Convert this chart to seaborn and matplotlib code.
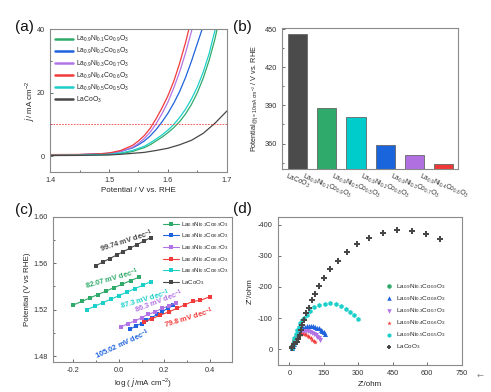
import numpy as np
import matplotlib
matplotlib.use('Agg')
import matplotlib.pyplot as plt
from matplotlib.ticker import AutoMinorLocator, MultipleLocator, FormatStrFormatter
import seaborn as sns

sns.set_style('ticks')
plt.rcParams['font.family'] = ['Liberation Sans', 'DejaVu Sans']
plt.rcParams['mathtext.default'] = 'regular'
plt.rcParams['axes.unicode_minus'] = False

# sample names and colours
lab_ni1 = r'La$_{0.9}$Ni$_{0.1}$Co$_{0.9}$O$_3$'
lab_ni2 = r'La$_{0.9}$Ni$_{0.2}$Co$_{0.8}$O$_3$'
lab_ni3 = r'La$_{0.9}$Ni$_{0.3}$Co$_{0.7}$O$_3$'
lab_ni4 = r'La$_{0.9}$Ni$_{0.4}$Co$_{0.6}$O$_3$'
lab_ni5 = r'La$_{0.9}$Ni$_{0.5}$Co$_{0.5}$O$_3$'
lab_lco = r'LaCoO$_3$'
c_ni1 = '#2faa6a'
c_ni2 = '#1f63dd'
c_ni3 = '#b274e4'
c_ni4 = '#f23a3a'
c_ni5 = '#1ccfc9'
c_lco = '#474747'

# (a) LSV curves
v_ni1 = [1.40, 1.45, 1.50, 1.52, 1.54, 1.56, 1.57, 1.58, 1.59, 1.60, 1.61, 1.62, 1.63, 1.64, 1.65, 1.66, 1.67, 1.68, 1.684]
j_ni1 = [0.3, 0.35, 0.5, 0.8, 1.5, 2.7, 3.6, 4.8, 6.0, 7.4, 9.0, 10.9, 13.3, 16.3, 20.0, 24.6, 30.2, 37.0, 40.5]
v_ni2 = [1.40, 1.45, 1.50, 1.52, 1.54, 1.55, 1.56, 1.57, 1.58, 1.59, 1.60, 1.61, 1.62, 1.63, 1.64, 1.65, 1.66]
j_ni2 = [0.4, 0.5, 0.9, 1.5, 2.6, 3.6, 4.8, 6.4, 8.4, 10.8, 13.5, 16.7, 20.4, 24.8, 29.9, 35.5, 41.0]
v_ni3 = [1.40, 1.45, 1.48, 1.50, 1.52, 1.54, 1.55, 1.56, 1.57, 1.58, 1.59, 1.60, 1.61, 1.62, 1.63, 1.64, 1.642]
j_ni3 = [0.4, 0.5, 0.6, 0.9, 1.5, 2.8, 4.0, 5.6, 7.6, 10.2, 13.4, 17.0, 21.5, 26.6, 32.5, 39.3, 41.0]
v_ni4 = [1.40, 1.45, 1.48, 1.50, 1.52, 1.54, 1.55, 1.56, 1.57, 1.58, 1.59, 1.60, 1.61, 1.62, 1.63, 1.637]
j_ni4 = [0.5, 0.55, 0.7, 1.0, 1.8, 3.4, 4.8, 6.5, 8.8, 11.8, 15.2, 19.0, 23.6, 29.3, 35.8, 41.0]
v_ni5 = [1.40, 1.45, 1.50, 1.52, 1.54, 1.56, 1.57, 1.58, 1.59, 1.60, 1.61, 1.62, 1.63, 1.64, 1.65, 1.66, 1.67, 1.677, 1.682]
j_ni5 = [0.3, 0.35, 0.6, 1.0, 1.8, 3.1, 4.2, 5.4, 6.7, 8.2, 10.0, 12.2, 14.8, 18.0, 21.8, 26.5, 32.3, 37.5, 41.0]
v_lco = [1.40, 1.45, 1.50, 1.52, 1.54, 1.56, 1.58, 1.60, 1.62, 1.64, 1.66, 1.68, 1.70]
j_lco = [0.2, 0.25, 0.4, 0.6, 0.9, 1.2, 1.8, 2.5, 3.6, 5.0, 7.2, 10.4, 14.2]

# (b) potential at 10 mA cm-2
bar_names = [lab_lco, lab_ni1, lab_ni5, lab_ni2, lab_ni3, lab_ni4]
bar_values = [446, 388, 381, 359, 351, 344]
bar_colors = ['#4b4b4b', '#2faa6a', '#00cccc', '#1a64dc', '#b070e0', '#f03838']

# (c) Tafel plots
tx_ni1 = [-0.20, -0.164, -0.128, -0.092, -0.056, -0.020, 0.016, 0.052, 0.090]
ty_ni1 = [1.524, 1.527, 1.530, 1.533, 1.536, 1.539, 1.542, 1.545, 1.548]
tx_ni2 = [0.05, 0.075, 0.10, 0.12, 0.145, 0.17, 0.19, 0.215, 0.24]
ty_ni2 = [1.503, 1.506, 1.508, 1.511, 1.513, 1.516, 1.518, 1.521, 1.524]
tx_ni3 = [0.01, 0.04, 0.07, 0.10, 0.13, 0.16, 0.19, 0.22, 0.25]
ty_ni3 = [1.505, 1.508, 1.510, 1.513, 1.516, 1.518, 1.521, 1.523, 1.526]
tx_ni4 = [0.11, 0.145, 0.18, 0.22, 0.255, 0.29, 0.325, 0.36, 0.40]
ty_ni4 = [1.509, 1.512, 1.515, 1.518, 1.521, 1.524, 1.527, 1.528, 1.531]
tx_ni5 = [-0.14, -0.105, -0.07, -0.035, 0.0, 0.035, 0.07, 0.105, 0.14]
ty_ni5 = [1.520, 1.523, 1.526, 1.529, 1.532, 1.535, 1.538, 1.541, 1.544]
tx_lco = [-0.10, -0.07, -0.04, -0.01, 0.02, 0.05, 0.08, 0.11, 0.14]
ty_lco = [1.558, 1.561, 1.564, 1.567, 1.570, 1.573, 1.576, 1.579, 1.582]
tafel_text = ['82.07', '105.02', '86.3', '79.8', '87.3', '99.74']

# (d) Nyquist plots (Z', -Z'')
zr_ni1 = [10, 13, 17, 21, 25, 30, 35, 40, 45]
zi_ni1 = [-3, -10, -18, -26, -33, -40, -46, -50, -53]
zr_ni2 = [12, 15, 18, 22, 27, 32, 38, 45, 52, 60, 68, 77, 86, 95, 104, 113, 121, 129, 137, 144, 151, 157]
zi_ni2 = [-3, -10, -18, -27, -36, -45, -53, -60, -66, -70, -73, -75, -76, -76, -75, -73, -70, -67, -63, -59, -55, -50]
zr_ni3 = [12, 15, 19, 24, 30, 37, 45, 53, 62, 71, 80, 89, 98, 106, 114, 121, 128, 135]
zi_ni3 = [-3, -11, -20, -29, -38, -46, -52, -56, -58, -59, -58, -56, -53, -49, -45, -40, -35, -30]
zr_ni4 = [10, 13, 17, 21, 26, 32, 38, 45, 52, 59, 66, 73, 80, 87, 94, 100, 106, 112]
zi_ni4 = [-3, -11, -20, -29, -37, -43, -47, -49, -50, -50, -48, -46, -43, -39, -35, -31, -27, -22]
zr_ni5 = [10, 14, 19, 22, 28, 33, 40, 46, 55, 65, 76, 88, 106, 130, 153, 178, 203, 226, 248, 266, 282, 298]
zi_ni5 = [-3, -13, -24, -37, -50, -62, -73, -83, -93, -102, -111, -124, -136, -142, -145, -147, -144, -139, -130, -119, -109, -97]
zr_lco = [10, 13, 22, 31, 38, 45, 51, 57, 62, 74, 87, 97, 112, 130, 149, 177, 210, 249, 295, 348, 407, 469, 533, 595, 656]
zi_lco = [-3, -7, -16, -24, -34, -47, -61, -77, -94, -115, -134, -158, -178, -203, -229, -256, -284, -312, -337, -357, -373, -382, -381, -371, -355]

spine_col = '#8a8a8a'
tick_fs = 5.3
lab_fs = 5.8


def style_axes(ax):
    for s in ax.spines.values():
        s.set_color(spine_col)
        s.set_linewidth(0.8)
    ax.tick_params(which='both', direction='in', colors='#555555', labelsize=tick_fs,
                   labelcolor='#333333', width=0.6)
    ax.tick_params(which='major', length=2.5)
    ax.tick_params(which='minor', length=1.5)


fig = plt.figure(figsize=(4.91, 3.92), dpi=100)

# ---- (a)
ax_a = fig.add_axes([0.102, 0.561, 0.360, 0.365])
series_a = [(v_ni1, j_ni1, c_ni1, lab_ni1), (v_ni2, j_ni2, c_ni2, lab_ni2),
            (v_ni3, j_ni3, c_ni3, lab_ni3), (v_ni4, j_ni4, c_ni4, lab_ni4),
            (v_ni5, j_ni5, c_ni5, lab_ni5), (v_lco, j_lco, c_lco, lab_lco)]
for v, j, c, lab in series_a:
    sns.lineplot(x=v, y=j, ax=ax_a, color=c, lw=0.9, label=lab, sort=False, estimator=None)
ax_a.axhline(10, color='#f04040', ls=(0, (2, 1.5)), lw=0.6)
ax_a.set_xlim(1.4, 1.7)
ax_a.set_ylim(-5, 40)
ax_a.xaxis.set_major_locator(MultipleLocator(0.1))
ax_a.yaxis.set_major_locator(MultipleLocator(20))
ax_a.xaxis.set_minor_locator(AutoMinorLocator(2))
ax_a.yaxis.set_minor_locator(AutoMinorLocator(2))
ax_a.set_xlabel('Potential / V vs. RHE', fontsize=lab_fs, labelpad=2)
ax_a.set_ylabel(r'$\mathit{j}$/ mA cm$^{-2}$', fontsize=lab_fs, labelpad=1)
leg = ax_a.legend(loc='upper left', fontsize=4.9, frameon=False, handlelength=2.6,
                  labelspacing=0.28, borderaxespad=0.35, handletextpad=0.4)
for ln in leg.get_lines():
    ln.set_linewidth(1.8)
style_axes(ax_a)

# ---- (b)
ax_b = fig.add_axes([0.574, 0.569, 0.359, 0.360])
sns.barplot(x=bar_names, y=bar_values, hue=bar_names, palette=bar_colors, legend=False,
            ax=ax_b, width=0.66, edgecolor='#666666', linewidth=0.6, saturation=1)
ax_b.set_ylim(340, 451)
ax_b.set_xlim(-0.53, 5.49)
ax_b.yaxis.set_major_locator(MultipleLocator(30))
ax_b.yaxis.set_minor_locator(AutoMinorLocator(2))
ax_b.set_ylabel(r'Potential$_{@j=10mA\ cm^{-2}}$ / V vs. RHE', fontsize=5.2, labelpad=3)
ax_b.set_xlabel('')
style_axes(ax_b)
ax_b.tick_params(axis='x', length=0, pad=2)
plt.setp(ax_b.get_xticklabels(), rotation=-22, ha='center', fontsize=4.8)

# ---- (c)
ax_c = fig.add_axes([0.108, 0.077, 0.365, 0.370])
series_c = [(tx_ni1, ty_ni1, c_ni1, lab_ni1), (tx_ni2, ty_ni2, c_ni2, lab_ni2),
            (tx_ni3, ty_ni3, c_ni3, lab_ni3), (tx_ni4, ty_ni4, c_ni4, lab_ni4),
            (tx_ni5, ty_ni5, c_ni5, lab_ni5), (tx_lco, ty_lco, c_lco, lab_lco)]
for x, y, c, lab in series_c:
    sns.lineplot(x=x, y=y, ax=ax_c, color=c, lw=0.8, marker='s', markersize=2.6,
                 markeredgewidth=0, label=lab, sort=False, estimator=None)
# slope labels: (x, y, rotation) in data coords
text_pos = [(-0.030, 1.5465, 16), (0.015, 1.4900, 25), (0.176, 1.5270, 21),
            (0.311, 1.5125, 17), (0.117, 1.5285, 16), (0.035, 1.5790, 18)]
for (x, y, rot), val, (_, _, c, _) in zip(text_pos, tafel_text, series_c):
    ax_c.text(x, y, val + r' mV dec$^{-1}$', color=c, fontsize=5.4, fontweight='bold',
              rotation=rot, ha='center', va='center')
ax_c.set_xlim(-0.29, 0.5)
ax_c.set_ylim(1.475, 1.60)
ax_c.xaxis.set_major_locator(MultipleLocator(0.2))
ax_c.yaxis.set_major_locator(MultipleLocator(0.04))
ax_c.xaxis.set_minor_locator(AutoMinorLocator(2))
ax_c.yaxis.set_minor_locator(AutoMinorLocator(2))
ax_c.xaxis.set_major_formatter(FormatStrFormatter('%.1f'))
ax_c.yaxis.set_major_formatter(FormatStrFormatter('%.2f'))
ax_c.set_xlabel(r'log ( $\mathit{j}$/mA cm$^{-2}$)', fontsize=lab_fs, labelpad=2)
ax_c.set_ylabel('Potential (V vs RHE)', fontsize=lab_fs, labelpad=2)
ax_c.legend(loc='upper right', fontsize=4.4, frameon=False, handlelength=2.6,
            labelspacing=0.45, borderaxespad=0.1, handletextpad=0.4)
style_axes(ax_c)

# ---- (d)
ax_d = fig.add_axes([0.566, 0.069, 0.375, 0.378])
series_d = [(zr_ni1, zi_ni1, c_ni1, lab_ni1, 'o'), (zr_ni2, zi_ni2, c_ni2, lab_ni2, '^'),
            (zr_ni3, zi_ni3, c_ni3, lab_ni3, 'v'), (zr_ni4, zi_ni4, c_ni4, lab_ni4, '*'),
            (zr_ni5, zi_ni5, c_ni5, lab_ni5, 'h'), (zr_lco, zi_lco, c_lco, lab_lco, 'P')]
for x, y, c, lab, m in series_d:
    sns.scatterplot(x=x, y=y, ax=ax_d, color=c, marker=m, s=13, linewidth=0, label=lab)
ax_d.set_xlim(-50, 752)
ax_d.set_ylim(50, -425)
ax_d.xaxis.set_major_locator(MultipleLocator(150))
ax_d.yaxis.set_major_locator(MultipleLocator(100))
ax_d.set_xlabel("Z'/ohm", fontsize=lab_fs, labelpad=3)
ax_d.set_ylabel("Z''/ohm", fontsize=lab_fs, labelpad=3)
ax_d.legend(loc='lower left', bbox_to_anchor=(0.57, 0.07), fontsize=4.6, frameon=False,
            handlelength=1.0, labelspacing=0.5, borderaxespad=0.1, handletextpad=0.5,
            markerscale=0.9)
style_axes(ax_d)

# panel letters
for x, y, t in [(0.031, 0.931, '(a)'), (0.475, 0.931, '(b)'), (0.031, 0.464, '(c)'), (0.475, 0.467, '(d)')]:
    fig.text(x, y, t, fontsize=11, ha='left', va='center', color='#111111')
fig.text(0.978, 0.043, '\u2190', fontsize=6, color='#888888', ha='center', va='center',
         family='DejaVu Sans')

fig.savefig('out.png', dpi=100, facecolor='white')
